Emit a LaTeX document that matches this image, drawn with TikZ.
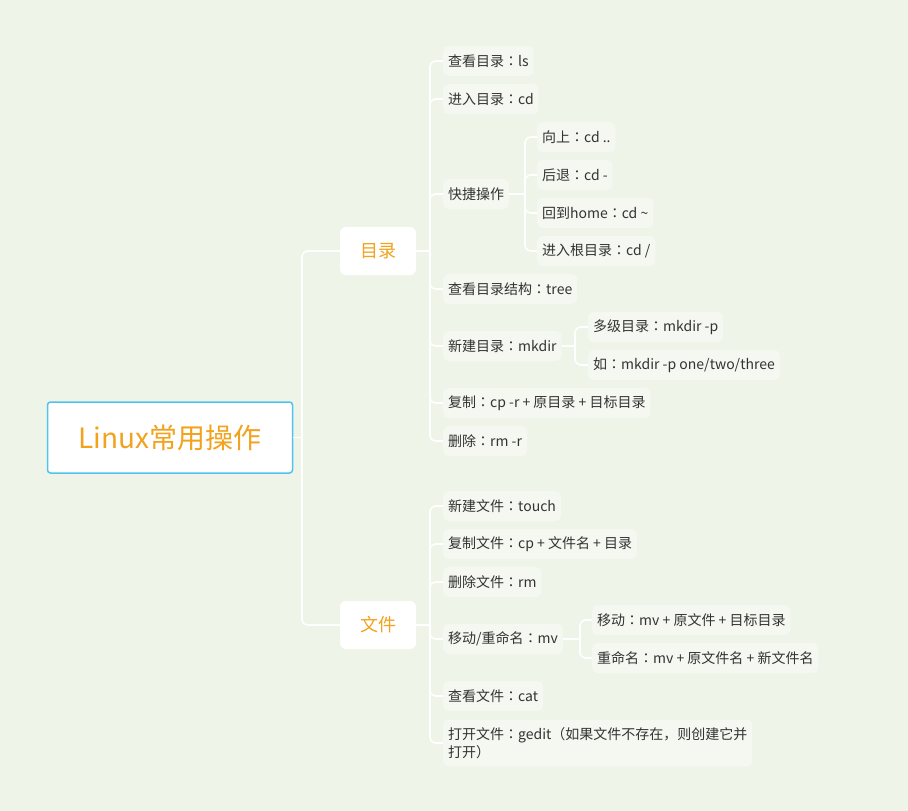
\documentclass[tikz,border=0pt]{standalone}
\usepackage{fontspec}
\setmainfont{Noto Sans CJK SC}
\newfontfamily\jpfont{Noto Sans CJK JP}
\newcommand\fc{{\jpfont ：}}
\definecolor{bgcol}{RGB}{238,244,232}
\definecolor{leafcol}{RGB}{244,248,240}
\definecolor{textcol}{RGB}{51,51,51}
\definecolor{orangecol}{RGB}{242,162,28}
\definecolor{bluecol}{RGB}{80,195,238}
\begin{document}
\begin{tikzpicture}[x=1pt,y=-1pt,
  every node/.style={font=\fontsize{14}{18}\selectfont, text=textcol},
  leaf/.style={fill=leafcol, rounded corners=5pt, inner xsep=5pt, inner ysep=0pt,
    minimum height=30pt, anchor=west},
  branch/.style={fill=white, rounded corners=6pt, minimum width=76pt, minimum height=48pt,
    text=orangecol, font=\fontsize{18}{22}\selectfont},
  root/.style={fill=white, draw=bluecol, line width=1.5pt, rounded corners=3pt,
    minimum width=245pt, minimum height=71pt, text=orangecol, font=\fontsize{28}{32}\selectfont},
  link/.style={white, line width=1.6pt, rounded corners=6pt}]
\fill [bgcol] (0,0) rectangle (908,811);
\useasboundingbox (0,0) rectangle (908,811);

\node [root] (root) at (170,437.5) {Linux常用操作};
\node [branch] (dir) at (378,251) {目录};
\node [branch] (file) at (378,625) {文件};

% 目录
\node [leaf] (ls) at (443,61) {查看目录\fc ls};
\node [leaf] (cd) at (443,99) {进入目录\fc cd};
\node [leaf] (quick) at (443,194) {快捷操作};
\node [leaf] (up) at (537,137) {向上\fc cd ..};
\node [leaf] (back) at (537,175) {后退\fc cd -};
\node [leaf] (home) at (537,213) {回到home\fc cd \textasciitilde};
\node [leaf] (rootdir) at (537,251) {进入根目录\fc cd /};
\node [leaf] (tree) at (443,289) {查看目录结构\fc tree};
\node [leaf] (mkdir) at (443,346) {新建目录\fc mkdir};
\node [leaf] (multi) at (588,327) {多级目录\fc mkdir -p};
\node [leaf] (eg) at (588,365) {如\fc mkdir -p one/two/three};
\node [leaf] (cpdir) at (443,403) {复制\fc cp -r + 原目录 + 目标目录};
\node [leaf] (rmdir) at (443,441) {删除\fc rm -r};

% 文件
\node [leaf] (touch) at (443,506) {新建文件\fc touch};
\node [leaf] (cpfile) at (443,544) {复制文件\fc cp + 文件名 + 目录};
\node [leaf] (rmfile) at (443,582) {删除文件\fc rm};
\node [leaf] (mv) at (443,639) {移动/重命名\fc mv};
\node [leaf] (move) at (592,620) {移动\fc mv + 原文件 + 目标目录};
\node [leaf] (rename) at (592,658) {重命名\fc mv + 原文件名 + 新文件名};
\node [leaf] (cat) at (443,696) {查看文件\fc cat};
\node [leaf, align=left, minimum height=47pt] (gedit) at (443,743)
  {打开文件\fc gedit（如果文件不存在，则创建它并\\打开）};

\coordinate (rootfork) at (302,437.5);
\coordinate (dirfork) at (430,251);
\coordinate (filefork) at (430,625);
\coordinate (quickfork) at (525,194);
\coordinate (mkdirfork) at (575,346);
\coordinate (mvfork) at (580,639);

\draw [link] (root.east) -- (rootfork);
\foreach \n in {dir,file} \draw [link] (rootfork) |- (\n.west);
\draw [link] (dir.east) -- (dirfork);
\foreach \n in {ls,cd,quick,tree,mkdir,cpdir,rmdir} \draw [link] (dirfork) |- (\n.west);
\draw [link] (file.east) -- (filefork);
\foreach \n in {touch,cpfile,rmfile,mv,cat,gedit} \draw [link] (filefork) |- (\n.west);
\draw [link] (quick.east) -- (quickfork);
\foreach \n in {up,back,home,rootdir} \draw [link] (quickfork) |- (\n.west);
\draw [link] (mkdir.east) -- (mkdirfork);
\foreach \n in {multi,eg} \draw [link] (mkdirfork) |- (\n.west);
\draw [link] (mv.east) -- (mvfork);
\foreach \n in {move,rename} \draw [link] (mvfork) |- (\n.west);
\end{tikzpicture}
\end{document}
